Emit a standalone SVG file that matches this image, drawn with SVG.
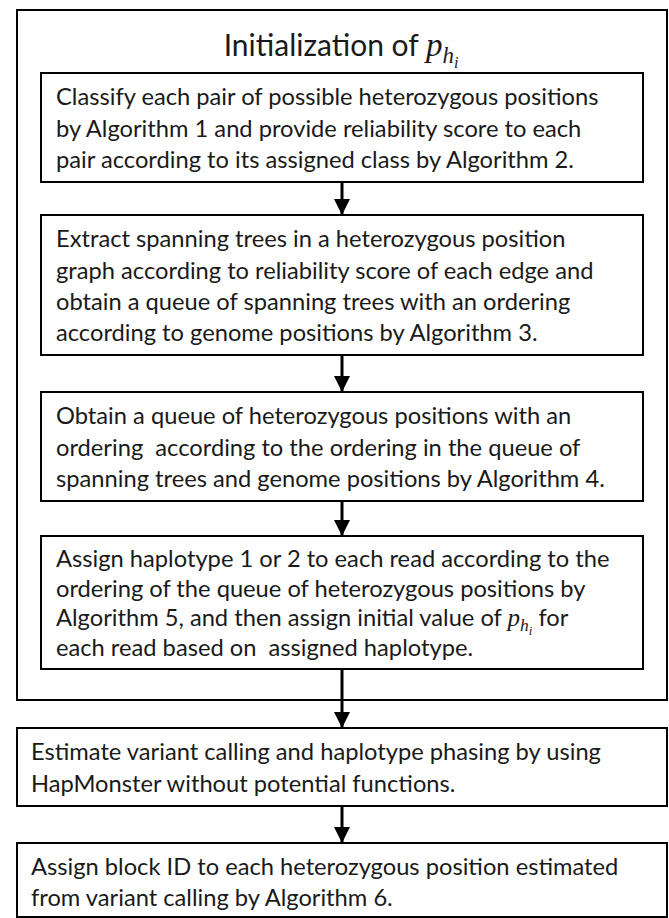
<svg xmlns="http://www.w3.org/2000/svg" width="669" height="918" viewBox="0 0 669 918">
<defs>
<style>
.box{fill:#fff;stroke:#000;stroke-width:2}
.outer{fill:none;stroke:#000;stroke-width:2}
.t{font-family:Lato,"Open Sans","Liberation Sans",sans-serif;font-size:23.7px;fill:#1a1a1a}
.title{font-family:Lato,"Open Sans","Liberation Sans",sans-serif;font-size:30px;fill:#1a1a1a}
.m{font-family:"Liberation Serif","DejaVu Serif",serif;font-style:italic}
.conn{stroke:#000;stroke-width:3;fill:none}
</style>
<marker id="ah" viewBox="0 0 16 20" refX="16" refY="10" markerWidth="16" markerHeight="20" markerUnits="userSpaceOnUse" orient="auto">
<path d="M0,2 L16,10 L0,18 Z" fill="#000"/>
</marker>
</defs>
<rect width="669" height="918" fill="#fff"/>
<g id="init">
<rect class="outer" x="17" y="10" width="650" height="690"/>
<text class="title" x="341" y="56" text-anchor="middle">Initialization of <tspan class="m" font-size="33">p</tspan><tspan class="m" font-size="23" dy="7">h</tspan><tspan class="m" font-size="16" dy="5">i</tspan></text>
</g>
<g id="n1">
<rect class="box" x="41" y="73" width="602" height="109"/>
<text class="t"><tspan x="56" y="105">Classify each pair of possible heterozygous positions</tspan><tspan x="56" y="136.5">by Algorithm 1 and provide reliability score to each</tspan><tspan x="56" y="167.5">pair according to its assigned class by Algorithm 2.</tspan></text>
</g>
<g id="n2">
<rect class="box" x="41" y="215" width="602" height="140"/>
<text class="t"><tspan x="56" y="247">Extract spanning trees in a heterozygous position</tspan><tspan x="56" y="278.5">graph according to reliability score of each edge and</tspan><tspan x="56" y="309.5">obtain a queue of spanning trees with an ordering</tspan><tspan x="56" y="341">according to genome positions by Algorithm 3.</tspan></text>
</g>
<g id="n3">
<rect class="box" x="41" y="392" width="602" height="109"/>
<text class="t" xml:space="preserve"><tspan x="56" y="424">Obtain a queue of heterozygous positions with an</tspan><tspan x="56" y="455.5">ordering  according to the ordering in the queue of</tspan><tspan x="56" y="486.5">spanning trees and genome positions by Algorithm 4.</tspan></text>
</g>
<g id="n4">
<rect class="box" x="41" y="536" width="602" height="133"/>
<text class="t" xml:space="preserve"><tspan x="56" y="567">Assign haplotype 1 or 2 to each read according to the</tspan><tspan x="56" y="596.5">ordering of the queue of heterozygous positions by</tspan><tspan x="56" y="626">Algorithm 5, and then assign initial value of <tspan class="m" font-size="25">p</tspan><tspan class="m" font-size="17.5" dy="5">h</tspan><tspan class="m" font-size="13" dy="4">i</tspan><tspan dy="-9"> for</tspan></tspan><tspan x="56" y="655.5">each read based on  assigned haplotype.</tspan></text>
</g>
<g id="n5">
<rect class="box" x="17" y="728" width="650" height="78"/>
<text class="t"><tspan x="31" y="760">Estimate variant calling and haplotype phasing by using</tspan><tspan x="31" y="791.5">HapMonster without potential functions.</tspan></text>
</g>
<g id="n6">
<rect class="box" x="17" y="843" width="650" height="74"/>
<text class="t"><tspan x="31" y="875">Assign block ID to each heterozygous position estimated</tspan><tspan x="31" y="906">from variant calling by Algorithm 6.</tspan></text>
</g>
<g id="connectors">
<line class="conn" x1="342" y1="182" x2="342" y2="215" marker-end="url(#ah)"/>
<line class="conn" x1="342" y1="355" x2="342" y2="392" marker-end="url(#ah)"/>
<line class="conn" x1="342" y1="501" x2="342" y2="536" marker-end="url(#ah)"/>
<line class="conn" x1="342" y1="669" x2="342" y2="728" marker-end="url(#ah)"/>
<line class="conn" x1="342" y1="806" x2="342" y2="843" marker-end="url(#ah)"/>
</g>
</svg>
